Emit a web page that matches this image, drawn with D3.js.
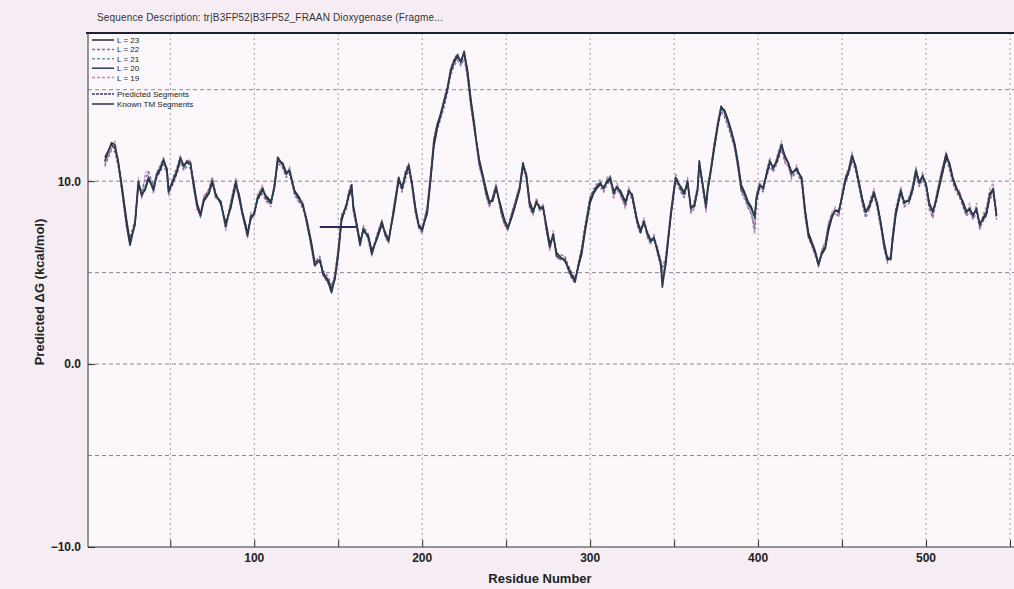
<!DOCTYPE html>
<html>
<head>
<meta charset="utf-8">
<script src="https://cdn.jsdelivr.net/npm/d3@7"></script>
<style>
  body { margin: 0; background: #f6edf4; }
  svg { display: block; font-family: Arial, "Liberation Sans", sans-serif; }
</style>
</head>
<body>
<div class="dg-chart"></div>
<script>
// residue positions (shared by all window lengths)
const residues = [11,15,17,19,21,24,26,29,31,33, 35,37,40,42,44,46,48,49,51,54, 56,58,60,62,64,66,68,70,73,75,
  77,80,83,86,89,91,93,96,98,100, 102,105,107,110,112,114,117,119,121,124, 127,129,131,134,136,139,141,144,146,148,
  150,152,155,156,158,159,161,163,165,168, 170,173,176,178,180,183,186,188,190,192, 194,196,198,200,203,205,207,209,211,213,
  215,217,219,221,223,225,227,229,231,232, 234,236,238,240,242,244,247,249,251,253, 255,258,260,262,264,266,268,270,272,274,
  276,278,280,282,285,287,289,291,293,295, 297,300,302,304,306,308,310,312,314,316, 318,321,323,325,328,330,332,334,336,338,
  340,342,343,345,348,350,351,354,356,358, 360,362,364,365,367,369,370,372,374,376, 378,380,382,384,386,388,390,392,394,396,
  398,399,401,403,405,407,409,411,414,416, 418,420,423,426,428,430,432,434,436,438, 440,442,444,446,448,450,452,454,456,458,
  460,462,464,466,469,471,473,475,477,479, 480,482,485,487,490,492,494,496,498,500, 502,504,506,509,512,514,516,518,520,522,
  524,526,528,530,532,534,536,538,540,542];

const dgL23 = [11.3,12.0,11.8,11.1,9.9,7.9,6.7,7.6,9.8,9.3, 9.5,10.1,9.6,10.3,10.6,11.1,10.7,9.6,9.8,10.5, 11.2,10.9,11.0,10.9,9.9,8.8,8.2,8.9,9.3,9.9,
  9.3,8.8,7.7,8.5,9.8,9.3,8.3,7.2,7.9,8.3, 9.0,9.5,9.2,8.9,9.6,11.1,11.0,10.5,10.5,9.5, 9.1,8.6,8.0,6.7,5.6,5.6,5.0,4.6,4.1,4.6,
  5.9,7.8,8.8,9.1,9.6,8.7,7.7,6.7,7.3,7.0, 6.2,6.8,7.6,7.2,6.8,8.2,10.0,9.7,10.3,10.8, 9.9,8.6,7.6,7.4,8.2,10.0,11.9,12.9,13.6,14.3,
  15.0,16.0,16.5,16.8,16.6,17.0,16.1,14.5,13.2,12.4, 11.2,10.4,9.6,8.9,8.9,9.6,8.6,7.9,7.5,7.9, 8.5,9.5,10.8,10.4,8.9,8.4,8.8,8.6,8.5,7.6,
  6.6,7.0,6.1,5.9,5.6,5.3,4.9,4.6,5.3,6.0, 7.2,8.8,9.3,9.6,9.8,9.7,9.9,10.1,9.5,9.6, 9.5,8.9,9.4,9.3,7.9,7.3,7.7,7.2,6.8,6.8,
  6.3,5.6,4.5,5.4,8.0,9.5,10.1,9.7,9.4,9.9, 8.6,8.6,9.5,10.9,9.9,8.7,9.5,10.6,11.8,13.0, 14.0,13.9,13.4,12.8,12.1,11.1,9.8,9.4,8.9,8.6,
  8.0,9.0,9.7,9.7,10.3,11.0,10.8,11.0,11.9,11.4, 11.0,10.5,10.6,10.2,8.5,7.2,6.7,6.2,5.5,6.0, 6.3,7.3,8.0,8.4,8.4,9.1,10.0,10.5,11.3,10.9,
  10.0,9.1,8.4,8.5,9.3,8.8,7.8,6.7,5.8,5.7, 6.6,8.1,9.4,8.9,8.9,9.5,10.5,10.0,10.2,9.9, 8.8,8.4,8.9,10.1,11.3,11.0,10.2,9.7,9.2,8.9,
  8.4,8.4,8.2,8.4,7.7,7.9,8.2,9.2,9.5,8.2];

const dgL22 = [10.8,11.7,11.6,10.8,9.6,7.8,6.9,7.9,9.7,9.5, 10.1,10.5,9.8,10.2,10.5,10.9,10.4,9.3,9.7,10.4, 11.0,10.6,10.8,10.7,9.5,8.7,8.3,9.1,9.6,10.2,
  9.4,8.7,7.8,8.6,9.7,9.0,8.3,7.3,8.0,8.3, 9.0,9.3,8.9,8.9,9.9,11.0,10.7,10.2,10.4,9.3, 8.8,8.5,7.8,6.6,5.6,5.9,5.1,4.8,4.3,4.9,
  6.3,7.9,8.5,9.0,9.5,8.4,7.5,6.7,7.5,7.1, 6.2,7.0,7.7,7.0,6.8,8.5,10.0,9.4,10.1,10.6, 9.6,8.3,7.6,7.5,8.6,10.4,12.0,12.8,13.4,14.0,
  14.8,15.8,16.3,16.6,16.3,16.7,15.6,14.0,12.8,12.2, 10.8,10.1,9.2,8.6,9.2,9.8,8.2,7.6,7.5,8.2, 8.8,9.7,10.8,10.1,8.5,8.2,9.0,8.6,8.4,7.2,
  6.3,7.2,6.0,6.0,5.9,5.4,5.0,4.7,5.5,6.4, 7.6,9.1,9.5,9.8,9.7,9.4,9.8,10.0,9.2,9.5, 9.3,8.6,9.3,9.0,7.6,7.1,7.9,7.3,6.8,7.0,
  6.4,5.7,5.2,5.8,8.0,9.4,10.0,9.4,9.1,9.8, 8.3,8.5,9.4,10.8,9.6,8.4,9.4,10.5,11.8,12.9, 13.8,13.5,13.0,12.4,11.8,10.7,9.4,9.1,8.6,8.2,
  7.3,8.8,9.6,9.4,10.2,10.8,10.5,10.9,11.7,11.0, 10.8,10.2,10.5,9.9,8.1,6.9,6.5,6.0,5.5,6.2, 6.6,7.6,8.2,8.2,8.1,9.0,9.9,10.4,11.1,10.6,
  9.7,8.8,8.0,8.4,9.2,8.5,7.5,6.4,5.8,6.0, 7.0,8.4,9.3,8.6,8.8,9.4,10.3,9.7,10.1,9.6, 8.5,8.0,8.8,10.1,11.2,10.6,9.9,9.4,9.1,8.6,
  8.1,8.3,7.9,8.3,7.4,7.8,8.1,9.0,9.3,7.9];

const dgL21 = [11.0,11.8,11.9,11.2,9.8,7.7,6.6,7.8,9.9,9.4, 9.7,10.3,9.7,10.5,10.8,11.1,10.5,9.5,10.0,10.7, 11.2,10.7,11.0,11.1,9.8,8.7,8.0,8.9,9.5,10.1,
  9.1,8.8,7.6,8.8,9.9,9.2,8.1,7.1,8.2,8.3, 9.2,9.7,9.0,8.7,9.8,11.2,10.8,10.3,10.7,9.5, 8.9,8.8,7.8,6.4,5.5,5.8,5.0,4.4,4.0,4.8,
  6.2,8.1,8.8,9.3,9.6,8.6,7.5,6.6,7.3,6.8, 6.1,7.0,7.7,7.0,6.8,8.5,10.1,9.5,10.5,10.8, 9.7,8.5,7.6,7.2,8.5,10.3,12.3,13.0,13.5,14.3,
  15.0,15.9,16.5,16.7,16.4,16.9,15.8,14.2,13.1,12.4, 11.1,10.2,9.5,8.7,9.1,9.6,8.5,7.7,7.3,8.1, 8.7,9.7,10.9,10.2,8.8,8.2,8.8,8.4,8.7,7.5,
  6.5,7.0,6.0,5.7,5.8,5.1,4.7,4.4,5.5,6.3, 7.5,9.1,9.5,9.8,10.0,9.5,10.1,10.3,9.3,9.8, 9.3,8.7,9.6,9.1,7.7,7.3,7.9,7.0,6.6,7.0,
  6.1,5.4,5.0,5.7,8.3,9.7,10.3,9.5,9.2,10.1, 8.4,8.8,9.7,11.0,9.7,8.5,9.7,10.8,12.1,13.2, 14.0,13.7,13.2,12.6,11.9,10.8,9.5,9.2,8.7,8.4,
  7.5,9.2,9.9,9.5,10.5,11.2,10.6,11.2,12.1,11.2, 10.9,10.3,10.8,10.0,8.2,7.1,6.5,6.0,5.3,6.2, 6.5,7.6,8.2,8.5,8.2,9.3,10.2,10.7,11.5,10.7,
  9.8,8.9,8.2,8.7,9.5,8.6,7.6,6.4,5.6,5.9, 6.9,8.4,9.6,8.7,9.1,9.7,10.7,9.8,10.4,9.7, 8.6,8.2,9.1,10.4,11.4,10.8,10.0,9.5,9.4,8.7,
  8.2,8.6,8.0,8.6,7.5,8.1,8.4,9.4,9.5,8.0];

const dgL20 = [11.1,12.1,12.0,11.0,9.7,7.6,6.5,7.7,10.0,9.2, 9.6,10.2,9.5,10.4,10.7,11.2,10.6,9.4,9.9,10.6, 11.3,10.8,11.1,11.0,9.7,8.6,8.1,9.0,9.4,10.0,
  9.2,8.9,7.5,8.7,10.0,9.1,8.2,7.0,8.1,8.2, 9.1,9.6,9.1,8.8,9.7,11.3,10.9,10.4,10.6,9.4, 9.0,8.7,7.9,6.5,5.4,5.7,4.9,4.5,3.9,4.7,
  6.1,8.0,8.7,9.2,9.8,8.5,7.6,6.5,7.4,6.9, 6.0,6.9,7.8,7.1,6.7,8.4,10.2,9.6,10.4,10.9, 9.8,8.4,7.5,7.3,8.4,10.2,12.2,13.1,13.7,14.4,
  15.1,16.1,16.6,16.9,16.5,17.1,15.9,14.3,13.0,12.3, 11.0,10.3,9.4,8.8,9.0,9.7,8.4,7.8,7.4,8.0, 8.6,9.6,11.0,10.3,8.7,8.3,8.9,8.5,8.6,7.4,
  6.4,7.1,5.9,5.8,5.7,5.2,4.8,4.5,5.4,6.2, 7.4,9.0,9.4,9.7,9.9,9.6,10.0,10.2,9.35,9.7, 9.4,8.8,9.5,9.2,7.8,7.2,7.8,7.1,6.7,6.9,
  6.2,5.5,4.2,5.6,8.2,9.6,10.2,9.6,9.3,10.0, 8.5,8.7,9.6,11.1,9.8,8.6,9.6,10.7,12.0,13.1, 14.1,13.8,13.3,12.7,12.0,10.9,9.6,9.3,8.8,8.5,
  8.1,9.1,9.8,9.6,10.4,11.1,10.7,11.1,12.0,11.3, 11.0,10.4,10.7,10.1,8.3,7.0,6.6,6.1,5.4,6.1, 6.4,7.5,8.1,8.4,8.3,9.2,10.1,10.6,11.4,10.8,
  9.9,9.0,8.3,8.6,9.4,8.7,7.7,6.5,5.7,5.8, 6.8,8.3,9.5,8.8,9.0,9.6,10.6,9.9,10.3,9.8, 8.7,8.3,9.0,10.3,11.5,10.9,10.1,9.6,9.3,8.8,
  8.3,8.5,8.1,8.5,7.6,8.0,8.3,9.3,9.6,8.1];

const dgL19 = [10.9,11.9,12.2,11.0,9.5,7.4,6.6,7.9,10.2,9.0, 10.4,10.6,9.3,10.5,10.9,11.3,10.4,9.2,10.1,10.8, 11.4,10.6,11.2,11.1,9.6,8.4,8.2,9.2,9.5,10.2,
  9.0,9.0,7.3,8.9,10.2,8.9,8.1,6.9,8.3,8.0, 9.3,9.8,8.9,8.6,9.9,11.4,10.7,10.3,10.8,9.2, 8.8,8.9,7.7,6.3,5.3,5.9,4.8,4.4,4.0,4.9,
  6.4,8.2,8.6,9.4,10.0,8.3,7.4,6.4,7.6,6.7, 5.9,7.1,7.9,6.9,6.6,8.6,10.3,9.4,10.6,11.0, 9.6,8.2,7.4,7.1,8.7,10.5,12.4,13.2,13.6,14.5,
  15.2,16.2,16.7,17.0,16.4,17.0,15.6,14.1,12.8,12.2, 10.8,10.1,9.2,8.6,9.2,9.9,8.2,7.6,7.3,8.2, 8.8,9.8,11.1,10.1,8.6,8.1,9.1,8.3,8.8,7.3,
  6.2,7.3,5.8,5.7,5.9,5.0,4.7,4.4,5.6,6.4, 7.6,9.2,9.6,9.9,10.1,9.4,10.2,10.3,9.0,9.9, 9.2,8.5,9.7,9.0,7.6,7.4,8.0,6.9,6.5,7.1,
  6.0,5.3,5.3,5.9,8.4,9.8,10.4,9.4,9.1,10.2, 8.2,8.9,9.8,11.2,9.6,8.3,9.8,10.9,12.2,13.3, 14.0,13.6,13.1,12.5,11.8,10.7,9.4,9.0,8.5,8.2,
  7.1,9.3,10.0,9.4,10.6,11.3,10.5,11.3,12.2,11.1, 10.8,10.1,10.9,9.8,8.0,6.9,6.4,5.9,5.4,6.3, 6.7,7.8,8.3,8.6,8.0,9.4,10.3,10.8,11.6,10.6,
  9.7,8.7,8.1,8.8,9.6,8.5,7.5,6.3,5.5,6.0, 7.1,8.6,9.7,8.6,9.2,9.8,10.8,9.7,10.5,9.6, 8.4,8.0,9.2,10.5,11.6,10.7,9.9,9.4,9.5,8.6,
  8.1,8.8,7.9,8.8,7.3,8.2,8.6,9.6,9.9,7.9];

// segment drawn on the plot: [start, end, dG]
const knownSegments = [[139, 161, 7.5]];

const xTicks = [50,100,150,200,250,300,350,400,450,500,550];
const xLabels = [100,200,300,400,500];
const yGrid = [15,10,5,0,-5];
const yLabels = [10,0,-10];

const width = 1014, height = 589;
const margin = {left: 88, right: 2, top: 33, bottom: 42};

const svg = d3.select('.dg-chart').append('svg')
  .attr('width', width)
  .attr('height', height)
  .attr('viewBox', [0, 0, width, height]);

const x = d3.scaleLinear().domain([1, 550]).range([margin.left, width - margin.right - 2]);
const y = d3.scaleLinear().domain([-10, 18.1]).range([height - margin.bottom, margin.top]);

// plot background
svg.append('rect')
  .attr('x', x(1)).attr('y', y(18.1))
  .attr('width', width - x(1)).attr('height', y(-10) - y(18.1))
  .style('fill', '#fcf7fb');

// grid
svg.append('g').selectAll('line')
  .data(yGrid)
  .enter().append('line')
  .attr('x1', x(1)).attr('x2', width)
  .attr('y1', d => y(d)).attr('y2', d => y(d))
  .style('stroke', '#8e8494')
  .style('stroke-width', 1)
  .style('stroke-dasharray', '4,3');

svg.append('g').selectAll('line')
  .data(xTicks)
  .enter().append('line')
  .attr('x1', d => x(d)).attr('x2', d => x(d))
  .attr('y1', y(18.1)).attr('y2', y(-10))
  .style('stroke', '#a49aa8')
  .style('stroke-width', 1)
  .style('stroke-dasharray', '2,3');

// axes
const xAxis = svg.append('g')
  .attr('transform', `translate(0,${y(-10)})`)
  .call(d3.axisBottom(x).tickValues(xTicks).tickSize(-7).tickFormat(''));
xAxis.select('.domain').remove();
xAxis.selectAll('line').style('stroke', '#333');
svg.append('line')
  .attr('x1', x(1)).attr('x2', width)
  .attr('y1', y(-10)).attr('y2', y(-10))
  .style('stroke', '#333').style('stroke-width', 1);

svg.append('g').selectAll('text')
  .data(xLabels)
  .enter().append('text')
  .attr('x', d => x(d))
  .attr('y', y(-10) + 15)
  .attr('text-anchor', 'middle')
  .style('font-size', '12px')
  .style('font-weight', 'bold')
  .style('fill', '#222')
  .text(d => d);

const yAxis = svg.append('g')
  .attr('transform', `translate(${x(1)},0)`)
  .call(d3.axisLeft(y).tickValues(yLabels).tickSize(-7).tickFormat(d3.format('.1f')));
yAxis.select('.domain').remove();
yAxis.selectAll('line').style('stroke', '#333');
yAxis.selectAll('text')
  .attr('x', -7)
  .style('font-size', '12px')
  .style('font-weight', 'bold')
  .style('font-family', 'Arial, "Liberation Sans", sans-serif')
  .style('fill', '#222');
svg.append('line')
  .attr('x1', x(1)).attr('x2', x(1))
  .attr('y1', y(18.1)).attr('y2', y(-10))
  .style('stroke', '#333').style('stroke-width', 1);

// top border
svg.append('line')
  .attr('x1', x(1) - 2).attr('x2', width)
  .attr('y1', y(18.1)).attr('y2', y(18.1))
  .style('stroke', '#1e2230').style('stroke-width', 2.2);

// axis titles
svg.append('text')
  .attr('x', 540).attr('y', 583)
  .attr('text-anchor', 'middle')
  .style('font-size', '13px').style('font-weight', 'bold').style('fill', '#222')
  .text('Residue Number');

svg.append('text')
  .attr('transform', 'translate(44,292) rotate(-90)')
  .attr('text-anchor', 'middle')
  .style('font-size', '13px').style('font-weight', 'bold').style('fill', '#222')
  .text('Predicted ΔG (kcal/mol)');

svg.append('text')
  .attr('x', 97).attr('y', 21)
  .style('font-size', '10px').style('fill', '#333')
  .style('letter-spacing', '0.15px')
  .text('Sequence  Description:  tr|B3FP52|B3FP52_FRAAN  Dioxygenase  (Fragme...');

// series
const series = [
  {name: 'L = 19', values: dgL19, color: '#c489aa', dash: '3,2', w: 1.3},
  {name: 'L = 21', values: dgL21, color: '#6f9da3', dash: '3,2', w: 1.3},
  {name: 'L = 22', values: dgL22, color: '#8b6aa8', dash: '3,2', w: 1.3},
  {name: 'L = 23', values: dgL23, color: '#2a2a2a', dash: null, w: 1.4},
  {name: 'L = 20', values: dgL20, color: '#2c3b4e', dash: null, w: 1.7}
];

const line = d3.line()
  .x(d => x(d[0]))
  .y(d => y(d[1]));

svg.append('g').selectAll('path')
  .data(series)
  .enter().append('path')
  .attr('d', d => line(d3.zip(residues, d.values)))
  .style('fill', 'none')
  .style('stroke', d => d.color)
  .style('stroke-width', d => d.w)
  .style('stroke-dasharray', d => d.dash)
  .style('stroke-linejoin', 'round');

svg.append('g').selectAll('line')
  .data(knownSegments)
  .enter().append('line')
  .attr('x1', d => x(d[0])).attr('x2', d => x(d[1]))
  .attr('y1', d => y(d[2])).attr('y2', d => y(d[2]))
  .style('stroke', '#2e2a5c')
  .style('stroke-width', 2);

// legend
const legendItems = [
  {name: 'L = 23', color: '#2a2a2a', dash: null},
  {name: 'L = 22', color: '#8b6aa8', dash: '3,2'},
  {name: 'L = 21', color: '#6f9da3', dash: '3,2'},
  {name: 'L = 20', color: '#2c3b4e', dash: null},
  {name: 'L = 19', color: '#c489aa', dash: '3,2'},
  {name: 'Predicted Segments', color: '#4a3a6a', dash: '3,1'},
  {name: 'Known TM Segments', color: '#2e2a5c', dash: null}
];
const legendY = [40, 49.4, 58.8, 68.2, 77.6, 94, 104];

const legend = svg.append('g').selectAll('g')
  .data(legendItems)
  .enter().append('g')
  .attr('transform', (d, i) => `translate(92,${legendY[i]})`);

legend.append('line')
  .attr('x1', 0).attr('x2', 22)
  .style('stroke', d => d.color)
  .style('stroke-width', 1.5)
  .style('stroke-dasharray', d => d.dash);

legend.append('text')
  .attr('x', 25).attr('y', 3)
  .style('font-size', '8px')
  .style('fill', '#222')
  .text(d => d.name);
</script>
</body>
</html>
